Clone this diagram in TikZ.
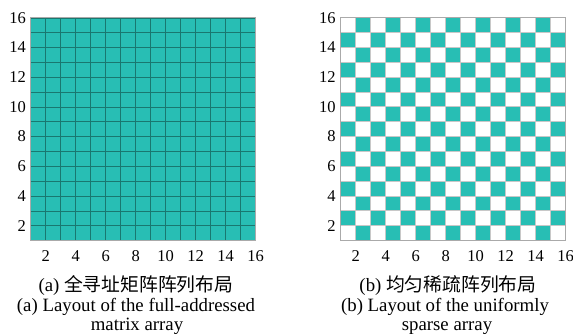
\documentclass[tikz,border=0pt]{standalone}
\usepackage{fontspec}
\setmainfont{Liberation Serif}
\newfontfamily\cjk{Noto Sans CJK SC}
\definecolor{tealcell}{RGB}{40,190,180}
\definecolor{tealline}{RGB}{25,120,112}
\definecolor{lightline}{RGB}{200,200,200}
\definecolor{frameline}{RGB}{170,170,170}

\begin{document}
\begin{tikzpicture}[
    x=15pt, y=14.85pt,
    cell/.style={fill=tealcell},
    gridline/.style={draw=tealline, line width=0.5pt, step={(1,1)}},
    sparseline/.style={draw=lightline, line width=0.8pt, step={(1,1)}},
    frame/.style={draw=frameline, line width=0.8pt},
    ticklab/.style={font=\fontsize{16.5}{18}\selectfont, inner sep=0pt},
    caption/.style={font=\fontsize{18.8}{20}\selectfont, inner sep=0pt, anchor=base},
]

% picture size
\useasboundingbox (0pt,0pt) rectangle (573pt,-335pt);

% Full-addressed matrix array
\begin{scope}[shift={(15.7pt,-255.35pt)}]
\fill[cell] (1,1) rectangle (16,16);
\draw[gridline] (1,1) grid (16,16);
\draw[frame] (1,1) rectangle (16,16);
\foreach \k in {2,4,...,16} {
    \node[ticklab, anchor=east, xshift=-4.7pt] (la-y\k) at (1,\k) {\k};
    \node[ticklab, anchor=base, yshift=-21pt] (la-x\k) at (\k,1) {\k};
}
\end{scope}

% Uniformly sparse array
\begin{scope}[shift={(325.7pt,-255.35pt)}]
\foreach \i in {1,...,15} {
    \foreach \j in {1,...,15} {
        \pgfmathtruncatemacro\parity{mod(\i+\j,2)}
        \ifnum\parity=1 \fill[cell] (\i,\j) rectangle ++(1,1); \fi
    }
}
\draw[sparseline] (1,1) grid (16,16);
\draw[frame] (1,1) rectangle (16,16);
\foreach \k in {2,4,...,16} {
    \node[ticklab, anchor=east, xshift=-5pt] (lb-y\k) at (1,\k) {\k};
    \node[ticklab, anchor=base, yshift=-21pt] (lb-x\k) at (\k,1) {\k};
}
\end{scope}

% Captions
\node[caption] (capa1) at (136pt,-291pt) {(a) {\cjk 全寻址矩阵阵列布局}};
\node[caption] (capa2) at (136pt,-311.5pt) {(a) Layout of the full-addressed};
\node[caption] (capa3) at (137pt,-330.5pt) {matrix array};

\node[caption] (capb1) at (448pt,-291pt) {(b) {\cjk 均匀稀疏阵列布局}};
\node[caption] (capb2) at (445pt,-311.5pt) {(b) Layout of the uniformly};
\node[caption] (capb3) at (447pt,-330.5pt) {sparse array};

\end{tikzpicture}
\end{document}
